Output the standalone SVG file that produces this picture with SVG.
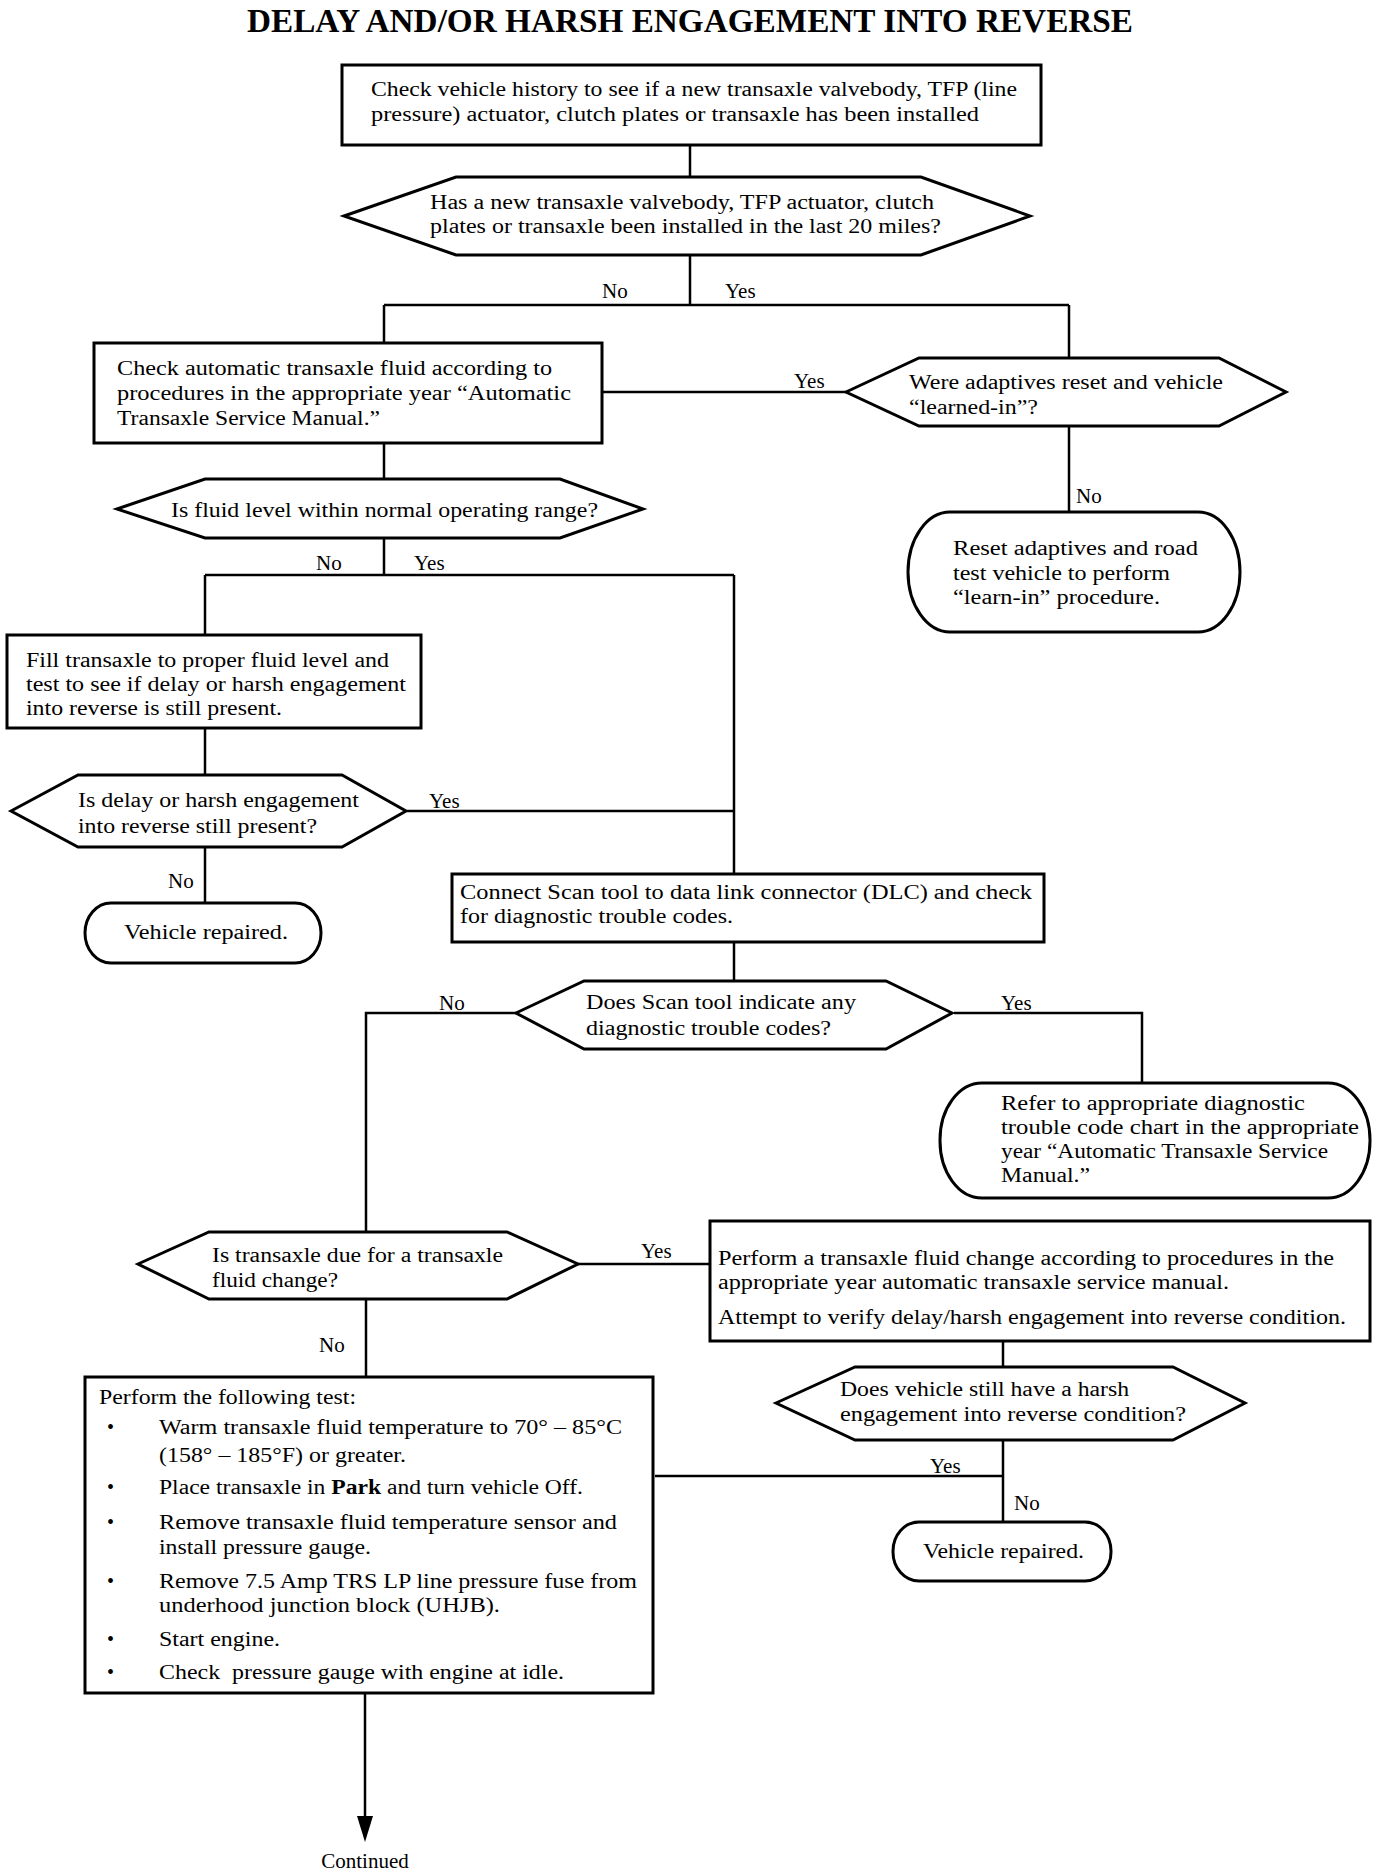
<svg xmlns="http://www.w3.org/2000/svg" width="1376" height="1874" viewBox="0 0 1376 1874">
<style>
.bg{fill:#fff}
.shape{fill:#fff;stroke:#000;stroke-width:3}
.conn{fill:none;stroke:#000;stroke-width:2.5}
.head{fill:#000;stroke:none}
text{font-family:"Liberation Serif","Times New Roman",serif;fill:#000}
.t{font-size:20px}
.lbl{font-size:21px}
.title{font-size:34px;font-weight:bold}
</style>
<rect class="bg" x="0" y="0" width="1376" height="1874"/>
<text class="title" x="247" y="32" textLength="886" lengthAdjust="spacingAndGlyphs">DELAY AND/OR HARSH ENGAGEMENT INTO REVERSE</text>

<g id="connectors">
<path class="conn" d="M690,145 V177"/>
<path class="conn" d="M690,255 V305 M384,305 H1069 M384,305 V343 M1069,305 V358"/>
<path class="conn" d="M602,392 H848"/>
<path class="conn" d="M1069,426 V512"/>
<path class="conn" d="M384,443 V479"/>
<path class="conn" d="M384,538 V575 M205,575 H734 M205,575 V635 M734,575 V873"/>
<path class="conn" d="M205,728 V775"/>
<path class="conn" d="M407,811 H734"/>
<path class="conn" d="M205,847 V902"/>
<path class="conn" d="M734,943 V981"/>
<path class="conn" d="M518,1013 H366 V1232"/>
<path class="conn" d="M954,1013 H1142 V1083"/>
<path class="conn" d="M578,1264 H712"/>
<path class="conn" d="M366,1299 V1377"/>
<path class="conn" d="M1003,1342 V1367"/>
<path class="conn" d="M1003,1440 V1522 M1003,1476 H655"/>
<path class="conn" d="M365,1694 V1822"/>
<polygon class="head" points="357,1816 373,1816 365,1842"/>
<text class="lbl" x="602" y="298">No</text>
<text class="lbl" x="725" y="298">Yes</text>
<text class="lbl" x="794" y="388">Yes</text>
<text class="lbl" x="1076" y="503">No</text>
<text class="lbl" x="316" y="570">No</text>
<text class="lbl" x="414" y="570">Yes</text>
<text class="lbl" x="429" y="808">Yes</text>
<text class="lbl" x="168" y="888">No</text>
<text class="lbl" x="439" y="1010">No</text>
<text class="lbl" x="1001" y="1010">Yes</text>
<text class="lbl" x="641" y="1258">Yes</text>
<text class="lbl" x="319" y="1352">No</text>
<text class="lbl" x="930" y="1473">Yes</text>
<text class="lbl" x="1014" y="1510">No</text>
<text class="lbl" x="365" y="1868" text-anchor="middle">Continued</text>
</g>

<g id="n1">
<rect class="shape" x="342" y="65" width="699" height="80"/>
<text class="t" x="371" y="96" textLength="646" lengthAdjust="spacingAndGlyphs">Check vehicle history to see if a new transaxle valvebody, TFP (line</text>
<text class="t" x="371" y="121" textLength="608" lengthAdjust="spacingAndGlyphs">pressure) actuator, clutch plates or transaxle has been installed</text>
</g>

<g id="d1">
<polygon class="shape" points="344,216 456,177 921,177 1030,216 921,255 456,255"/>
<text class="t" x="430" y="209" textLength="504" lengthAdjust="spacingAndGlyphs">Has a new transaxle valvebody, TFP actuator, clutch</text>
<text class="t" x="430" y="233" textLength="511" lengthAdjust="spacingAndGlyphs">plates or transaxle been installed in the last 20 miles?</text>
</g>

<g id="n2">
<rect class="shape" x="94" y="343" width="508" height="100"/>
<text class="t" x="117" y="375" textLength="435" lengthAdjust="spacingAndGlyphs">Check automatic transaxle fluid according to</text>
<text class="t" x="117" y="400" textLength="454" lengthAdjust="spacingAndGlyphs">procedures in the appropriate year “Automatic</text>
<text class="t" x="117" y="425" textLength="263" lengthAdjust="spacingAndGlyphs">Transaxle Service Manual.”</text>
</g>

<g id="d2">
<polygon class="shape" points="846,392 919,358 1219,358 1286,392 1219,426 919,426"/>
<text class="t" x="909" y="389" textLength="314" lengthAdjust="spacingAndGlyphs">Were adaptives reset and vehicle</text>
<text class="t" x="909" y="414" textLength="129" lengthAdjust="spacingAndGlyphs">“learned-in”?</text>
</g>

<g id="t1">
<rect class="shape" x="908" y="512" width="332" height="120" rx="42" ry="60"/>
<text class="t" x="953" y="555" textLength="245" lengthAdjust="spacingAndGlyphs">Reset adaptives and road</text>
<text class="t" x="953" y="580" textLength="217" lengthAdjust="spacingAndGlyphs">test vehicle to perform</text>
<text class="t" x="953" y="604" textLength="207" lengthAdjust="spacingAndGlyphs">“learn-in” procedure.</text>
</g>

<g id="d3">
<polygon class="shape" points="117,509 205,479 560,479 643,509 560,538 205,538"/>
<text class="t" x="171" y="517" textLength="427" lengthAdjust="spacingAndGlyphs">Is fluid level within normal operating range?</text>
</g>

<g id="n3">
<rect class="shape" x="7" y="635" width="414" height="93"/>
<text class="t" x="26" y="667" textLength="363" lengthAdjust="spacingAndGlyphs">Fill transaxle to proper fluid level and</text>
<text class="t" x="26" y="691" textLength="380" lengthAdjust="spacingAndGlyphs">test to see if delay or harsh engagement</text>
<text class="t" x="26" y="715" textLength="256" lengthAdjust="spacingAndGlyphs">into reverse is still present.</text>
</g>

<g id="d4">
<polygon class="shape" points="11,811 78,775 342,775 406,811 342,847 78,847"/>
<text class="t" x="78" y="807" textLength="281" lengthAdjust="spacingAndGlyphs">Is delay or harsh engagement</text>
<text class="t" x="78" y="833" textLength="239" lengthAdjust="spacingAndGlyphs">into reverse still present?</text>
</g>

<g id="t2">
<rect class="shape" x="85" y="903" width="236" height="60" rx="26" ry="30"/>
<text class="t" x="124" y="939" textLength="164" lengthAdjust="spacingAndGlyphs">Vehicle repaired.</text>
</g>

<g id="n4">
<rect class="shape" x="452" y="874" width="592" height="68"/>
<text class="t" x="460" y="899" textLength="572" lengthAdjust="spacingAndGlyphs">Connect Scan tool to data link connector (DLC) and check</text>
<text class="t" x="460" y="923" textLength="273" lengthAdjust="spacingAndGlyphs">for diagnostic trouble codes.</text>
</g>

<g id="d5">
<polygon class="shape" points="516,1013 584,981 886,981 952,1013 886,1049 584,1049"/>
<text class="t" x="586" y="1009" textLength="270" lengthAdjust="spacingAndGlyphs">Does Scan tool indicate any</text>
<text class="t" x="586" y="1035" textLength="245" lengthAdjust="spacingAndGlyphs">diagnostic trouble codes?</text>
</g>

<g id="t3">
<rect class="shape" x="940" y="1083" width="430" height="115" rx="42" ry="57"/>
<text class="t" x="1001" y="1110" textLength="304" lengthAdjust="spacingAndGlyphs">Refer to appropriate diagnostic</text>
<text class="t" x="1001" y="1134" textLength="358" lengthAdjust="spacingAndGlyphs">trouble code chart in the appropriate</text>
<text class="t" x="1001" y="1158" textLength="327" lengthAdjust="spacingAndGlyphs">year “Automatic Transaxle Service</text>
<text class="t" x="1001" y="1182" textLength="89" lengthAdjust="spacingAndGlyphs">Manual.”</text>
</g>

<g id="d6">
<polygon class="shape" points="138,1264 209,1232 507,1232 578,1264 507,1299 209,1299"/>
<text class="t" x="212" y="1262" textLength="291" lengthAdjust="spacingAndGlyphs">Is transaxle due for a transaxle</text>
<text class="t" x="212" y="1287" textLength="126" lengthAdjust="spacingAndGlyphs">fluid change?</text>
</g>

<g id="n5">
<rect class="shape" x="710" y="1221" width="660" height="120"/>
<text class="t" x="718" y="1265" textLength="616" lengthAdjust="spacingAndGlyphs">Perform a transaxle fluid change according to procedures in the</text>
<text class="t" x="718" y="1289" textLength="511" lengthAdjust="spacingAndGlyphs">appropriate year automatic transaxle service manual.</text>
<text class="t" x="718" y="1324" textLength="628" lengthAdjust="spacingAndGlyphs">Attempt to verify delay/harsh engagement into reverse condition.</text>
</g>

<g id="d7">
<polygon class="shape" points="776,1403 855,1367 1173,1367 1245,1403 1173,1440 855,1440"/>
<text class="t" x="840" y="1396" textLength="289" lengthAdjust="spacingAndGlyphs">Does vehicle still have a harsh</text>
<text class="t" x="840" y="1421" textLength="346" lengthAdjust="spacingAndGlyphs">engagement into reverse condition?</text>
</g>

<g id="t4">
<rect class="shape" x="893" y="1522" width="218" height="59" rx="26" ry="29"/>
<text class="t" x="923" y="1558" textLength="161" lengthAdjust="spacingAndGlyphs">Vehicle repaired.</text>
</g>

<g id="n6">
<rect class="shape" x="85" y="1377" width="568" height="316"/>
<text class="t" x="99" y="1404" textLength="257" lengthAdjust="spacingAndGlyphs">Perform the following test:</text>
<text class="t" x="107" y="1434">•</text>
<text class="t" x="159" y="1434" textLength="463" lengthAdjust="spacingAndGlyphs">Warm transaxle fluid temperature to 70° – 85°C</text>
<text class="t" x="159" y="1462" textLength="247" lengthAdjust="spacingAndGlyphs">(158° – 185°F) or greater.</text>
<text class="t" x="107" y="1494">•</text>
<text class="t" x="159" y="1494" textLength="424" lengthAdjust="spacingAndGlyphs">Place transaxle in <tspan font-weight="bold">Park</tspan> and turn vehicle Off.</text>
<text class="t" x="107" y="1529">•</text>
<text class="t" x="159" y="1529" textLength="458" lengthAdjust="spacingAndGlyphs">Remove transaxle fluid temperature sensor and</text>
<text class="t" x="159" y="1554" textLength="212" lengthAdjust="spacingAndGlyphs">install pressure gauge.</text>
<text class="t" x="107" y="1588">•</text>
<text class="t" x="159" y="1588" textLength="478" lengthAdjust="spacingAndGlyphs">Remove 7.5 Amp TRS LP line pressure fuse from</text>
<text class="t" x="159" y="1612" textLength="341" lengthAdjust="spacingAndGlyphs">underhood junction block (UHJB).</text>
<text class="t" x="107" y="1646">•</text>
<text class="t" x="159" y="1646" textLength="121" lengthAdjust="spacingAndGlyphs">Start engine.</text>
<text class="t" x="107" y="1679">•</text>
<text class="t" x="159" y="1679" textLength="405" lengthAdjust="spacingAndGlyphs" xml:space="preserve">Check  pressure gauge with engine at idle.</text>
</g>
</svg>
